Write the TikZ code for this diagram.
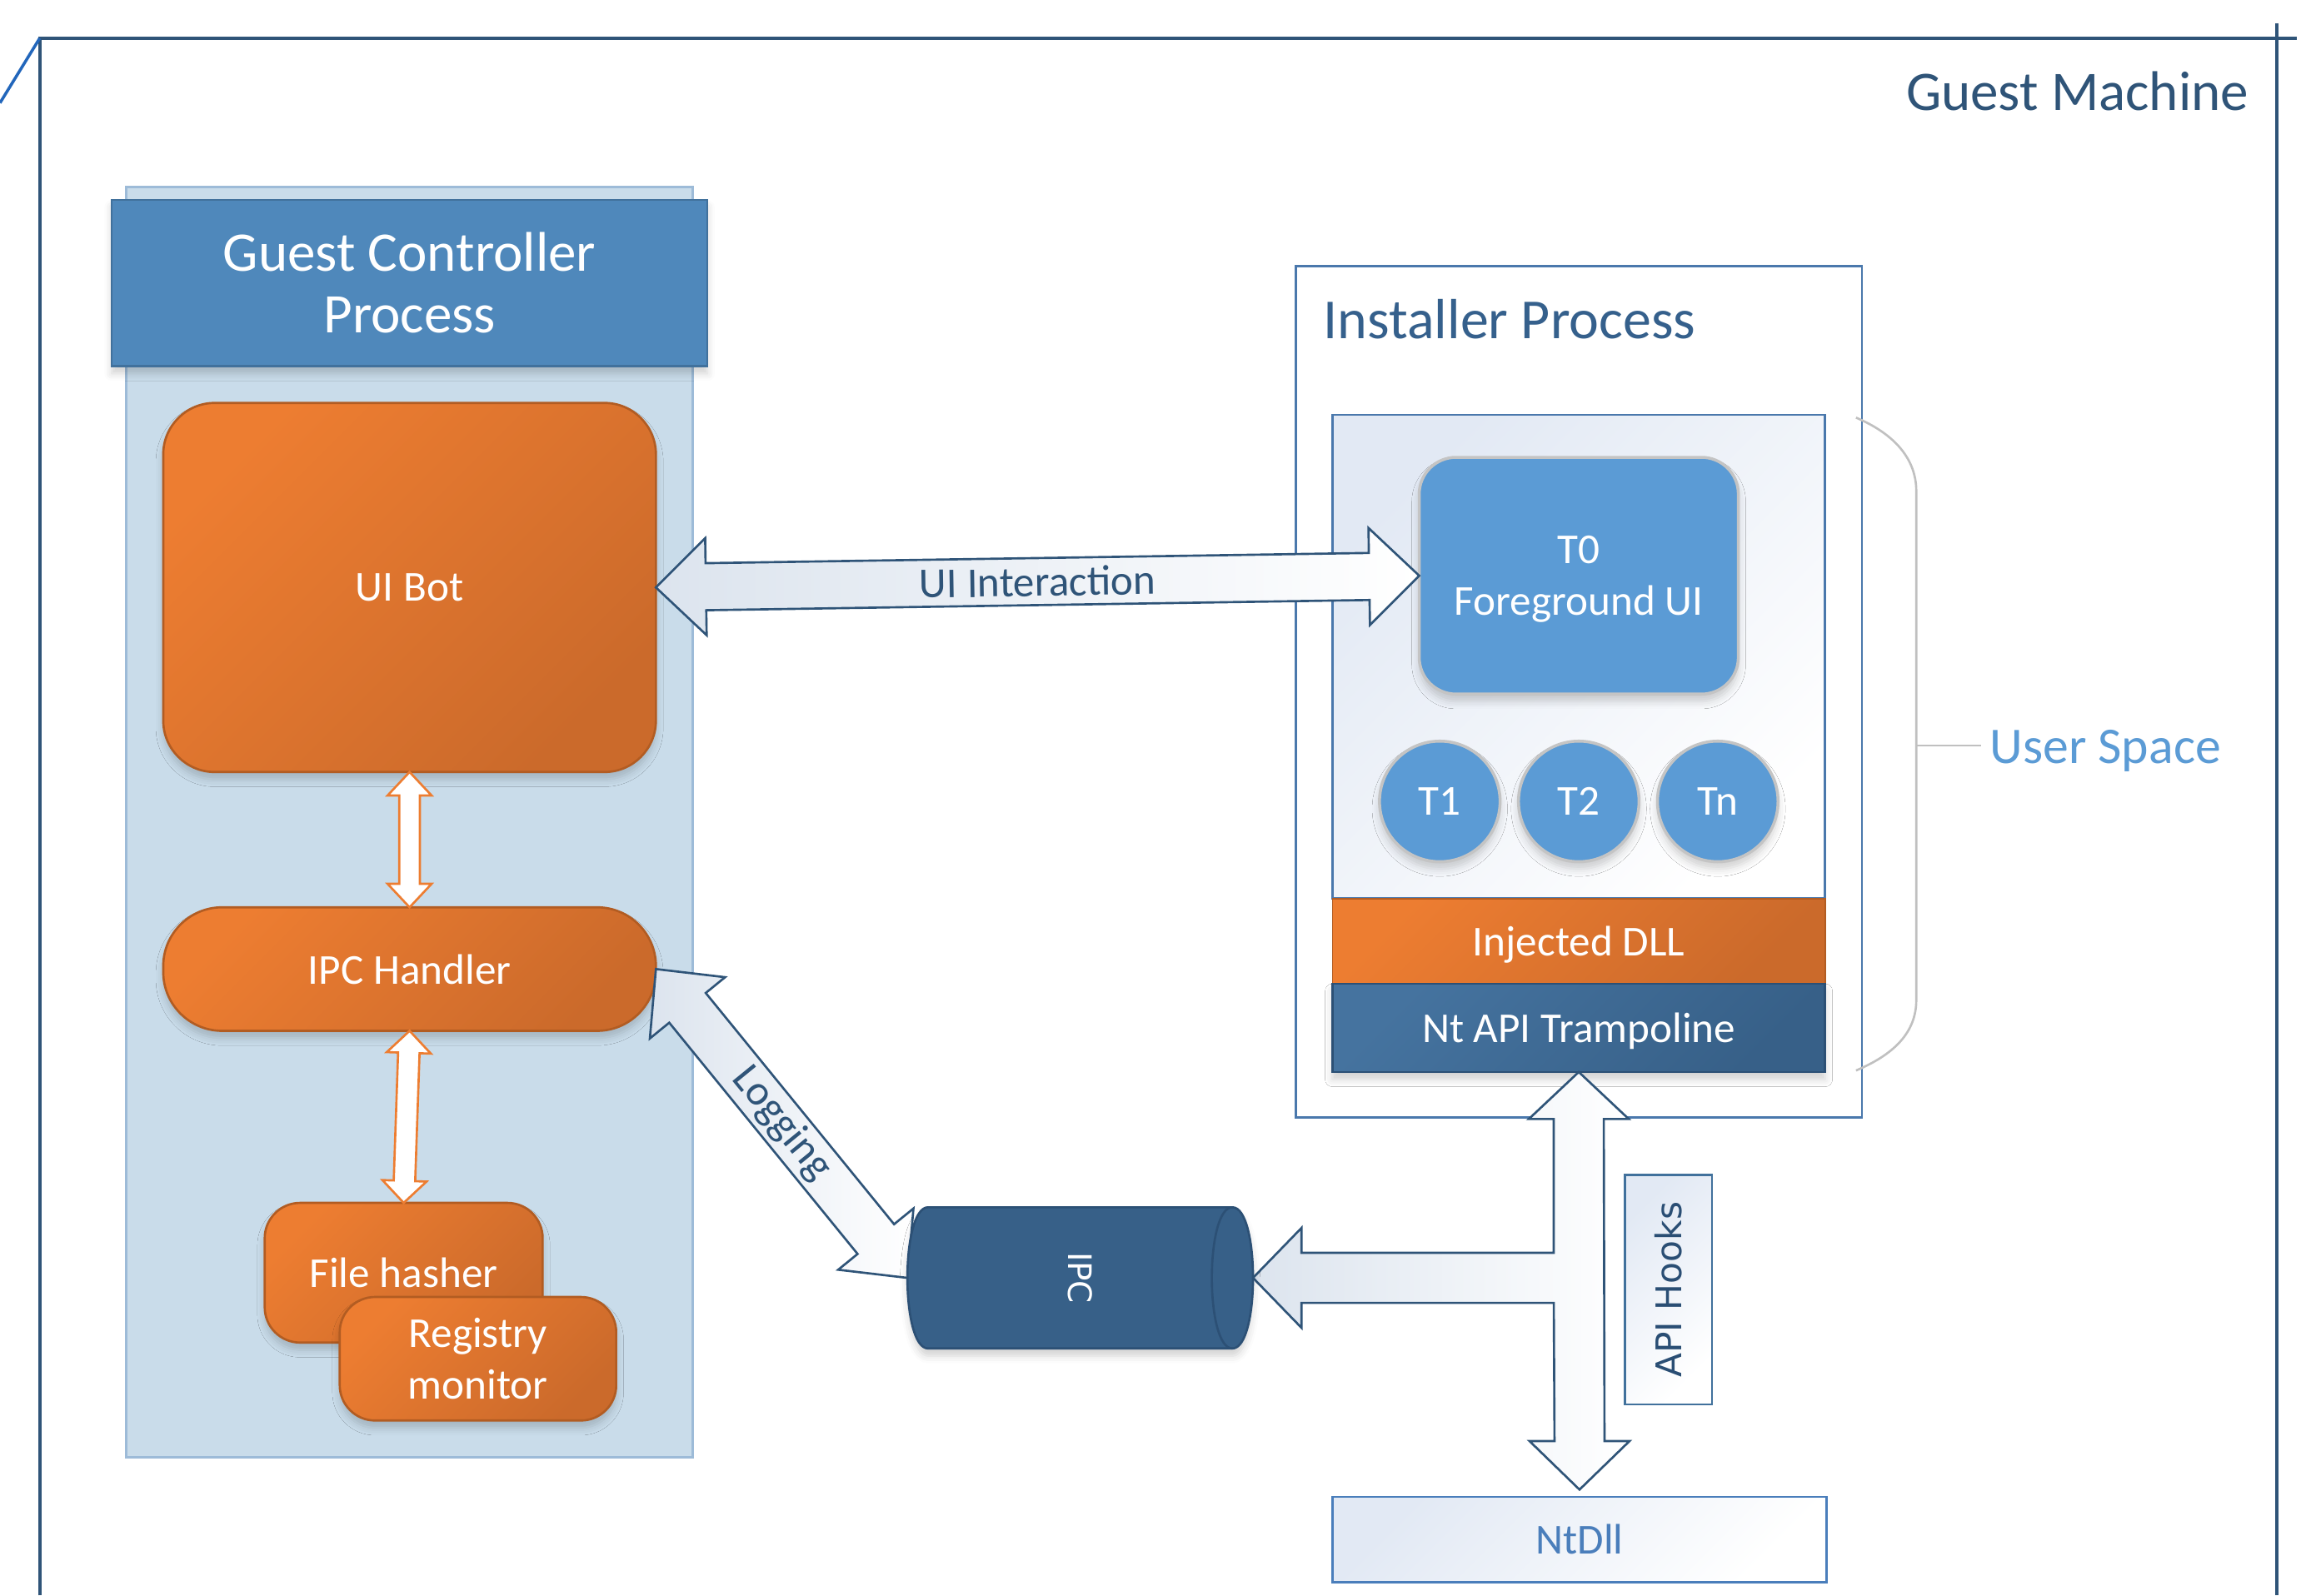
\documentclass[tikz,border=0pt]{standalone}
\usepackage{fontspec}
\setmainfont{Carlito}
\newfontfamily\vfont{DejaVu Sans}
\usetikzlibrary{calc,shadows.blur}
\definecolor{frameblue}{HTML}{2F5478}
\definecolor{diagblue}{HTML}{2266BB}
\definecolor{headblue}{HTML}{4F88BB}
\definecolor{headborder}{HTML}{41719C}
\definecolor{panelfill}{HTML}{C9DCEA}
\definecolor{panelborder}{HTML}{9DBBD8}
\definecolor{orL}{HTML}{ED7D31}
\definecolor{orD}{HTML}{CB6A2B}
\definecolor{orB}{HTML}{B25C22}
\definecolor{instborder}{HTML}{4A78AC}
\definecolor{instlabel}{HTML}{35608C}
\definecolor{innerL}{HTML}{E2E9F4}
\definecolor{tblue}{HTML}{5B9BD5}
\definecolor{tborder}{HTML}{C4C4C4}
\definecolor{navyL}{HTML}{45739F}
\definecolor{navyD}{HTML}{376088}
\definecolor{navyB}{HTML}{2C5075}
\definecolor{bracegray}{HTML}{C0C0C0}
\definecolor{userblue}{HTML}{5B9BD5}
\definecolor{ntdllblue}{HTML}{4A7EBB}
\definecolor{arrowL}{HTML}{DCE4EE}
\definecolor{hookstext}{HTML}{2A4E74}

% double-headed block arrow: style, from, to, head length, head half width, shaft half width
\newcommand\dblarrow[6]{%
  \draw[#1] (#2)
    -- ($(#2)!#4!(#3)!#5!90:(#3)$)
    -- ($(#2)!#4!(#3)!#6!90:(#3)$)
    -- ($(#3)!#4!(#2)!#6!270:(#2)$)
    -- ($(#3)!#4!(#2)!#5!270:(#2)$)
    -- (#3)
    -- ($(#3)!#4!(#2)!#5!90:(#2)$)
    -- ($(#3)!#4!(#2)!#6!90:(#2)$)
    -- ($(#2)!#4!(#3)!#6!270:(#3)$)
    -- ($(#2)!#4!(#3)!#5!270:(#3)$)
    -- cycle;}

\begin{document}
\begin{tikzpicture}[x=1pt,y=-1pt,
  every node/.style={outer sep=0pt,inner sep=0pt},
  lbl/.style={font=\fontsize{29}{35}\selectfont},
  big/.style={font=\fontsize{38}{42}\selectfont},
  shadowed/.style={blur shadow={shadow xshift=0pt,shadow yshift=-5pt,shadow blur radius=5pt,shadow opacity=18}},
  panel/.style={draw=panelborder,fill=panelfill,line width=1.5pt},
  header/.style={draw=headborder,fill=headblue,line width=1.5pt,text=white,big,align=center,shadowed},
  orangebox/.style={draw=orB,line width=1.5pt,top color=orL,bottom color=orD,shading angle=45,text=white,lbl,align=center,text depth=0pt,shadowed},
  instbox/.style={draw=instborder,fill=white,line width=1.5pt},
  lightbox/.style={draw=instborder,line width=1.5pt,top color=innerL,bottom color=white,shading angle=45},
  tnode/.style={draw=tborder,line width=2pt,fill=tblue,text=white,lbl,align=center,text depth=0pt,shadowed},
  dllbox/.style={draw=orB,line width=1pt,top color=orL,bottom color=orD,shading angle=45,text=white,lbl,text depth=0pt},
  ntbox/.style={draw=navyB,line width=1.5pt,top color=navyL,bottom color=navyD,shading angle=45,text=white,lbl,text depth=0pt,shadowed},
  bigarrow/.style={draw=frameblue,line width=1.5pt,left color=arrowL,right color=white},
  orarrow/.style={draw=orL,line width=1.5pt,fill=white},
  cylbody/.style={fill=navyD,draw=navyB,line width=1.5pt,shadowed},
  cylcap/.style={draw=navyB,line width=1.5pt},
  bracestyle/.style={draw=bracegray,line width=1.5pt},
]
\useasboundingbox (0,0) rectangle (1568,1085);

% Guest machine frame
\draw[frameblue,line width=2.2pt] (27,1085) -- (27,26) -- (1562,26);
\draw[frameblue,line width=2.2pt] (1548,16) -- (1548,1085);
\draw[diagblue,line width=2pt] (27,26) -- (0,70);
\node[anchor=base east,big,text=frameblue] (gmlbl) at (1529,75) {Guest Machine};

% Guest controller process
\node[panel,minimum width=385pt,minimum height=864pt] (ctrl) at (278.5,559) {};
\node[header,minimum width=405pt,minimum height=113pt] (ctrlhead) at (278.5,192.5) {Guest Controller\\Process};
\node[orangebox,rounded corners=35pt,minimum width=335pt,minimum height=251pt] (uibot) at (278.5,399.5) {UI Bot};
\node[orangebox,rounded corners=40pt,minimum width=335pt,minimum height=84pt] (ipch) at (278.5,659) {IPC Handler};
\node[orangebox,rounded corners=24pt,minimum width=189pt,minimum height=95pt] (fileh) at (274.5,865.5) {File hasher};
\node[orangebox,rounded corners=24pt,minimum width=188pt,minimum height=84pt] (regmon) at (325,924) {Registry\\monitor};

% Installer process
\node[instbox,minimum width=385pt,minimum height=579pt] (inst) at (1073.5,470.5) {};
\node[anchor=base west,font=\fontsize{38.5}{42}\selectfont,text=instlabel] (instlbl) at (900,230) {Installer Process};
\node[lightbox,minimum width=335pt,minimum height=329pt] (innerb) at (1073.5,446.5) {};
\node[tnode,rounded corners=25pt,minimum width=217pt,minimum height=161pt] (t0) at (1073.5,391.5) {T0\\Foreground UI};
\node[tnode,circle,minimum size=82pt] (t1) at (979,545) {T1};
\node[tnode,circle,minimum size=82pt] (t2) at (1073.5,545) {T2};
\node[tnode,circle,minimum size=82pt] (tn) at (1168,545) {Tn};
\node[dllbox,minimum width=335pt,minimum height=58pt] (dll) at (1073.5,640) {Injected DLL};
\node[ntbox,minimum width=335pt,minimum height=60pt] (nt) at (1073.5,699) {Nt API Trampoline};

% NtDll and API hooks
\node[lightbox,draw=ntdllblue,minimum width=336pt,minimum height=58pt,lbl,text=ntdllblue] (ntdll) at (1074,1047) {NtDll};
\node[lightbox,draw=headborder,rotate=90,minimum width=156pt,minimum height=59pt,text=hookstext,font=\vfont\fontsize{24}{28}\selectfont] (hooks) at (1134.5,877) {API Hooks};

% IPC channel (anchor holder)
\node[minimum width=235pt,minimum height=96pt] (ipc) at (734.5,869) {};

% User space brace
\draw[bracestyle] (1262,284) .. controls (1288,295) and (1303,312) .. (1303,334) -- (1303,680) .. controls (1303,702) and (1288,717) .. (1262,728);
\draw[bracestyle] (1303,507) -- (1347,507);
\node[anchor=base west,font=\fontsize{35}{40}\selectfont,text=userblue] (uslbl) at (1353,519) {User Space};

% connectors
\dblarrow{bigarrow}{uibot.east}{t0.west}{34pt}{33pt}{16pt}
\dblarrow{orarrow}{uibot.south}{ipch.north}{16pt}{15pt}{7pt}
\dblarrow{orarrow}{ipch.south}{fileh.north}{15pt}{15pt}{7.3pt}
\dblarrow{bigarrow}{ipch.east}{ipc.west}{34pt}{33pt}{16pt}

\coordinate (apiTop) at (nt.south);
\coordinate (apiBot) at ($(ntdll.north)+(0,-5)$);
\coordinate (apiMid) at (ipc.east);
\draw[bigarrow] (apiTop) -- ++(34,32) -- ++(-17,0)
  -- ($(apiBot)+(17,-33)$) -- ($(apiBot)+(34,-33)$) -- (apiBot)
  -- ($(apiBot)+(-34,-33)$) -- ($(apiBot)+(-17,-33)$)
  -- ($(apiTop |- apiMid)+(-17,17)$) -- ($(apiMid)+(33,17)$)
  -- ($(apiMid)+(33,34)$) -- (apiMid) -- ($(apiMid)+(33,-34)$)
  -- ($(apiMid)+(33,-17)$) -- ($(apiTop |- apiMid)+(-17,-17)$)
  -- ($(apiTop)+(-17,32)$) -- ($(apiTop)+(-34,32)$) -- cycle;

% IPC cylinder
\draw[cylbody] (838,821) -- (631,821) .. controls (612.33,821) and (612.33,917) .. (631,917)
  -- (838,917) .. controls (856.67,917) and (856.67,821) .. (838,821) -- cycle;
\draw[cylcap] (838,821) .. controls (819.33,821) and (819.33,917) .. (838,917);
\node[rotate=-90,text=white,font=\vfont\fontsize{22}{26}\selectfont] (ipclbl) at (ipc.center) {IPC};

% connector labels
\path (uibot.east) -- (t0.west) node[midway,sloped,lbl,text=frameblue] (uilbl) {UI Interaction};
\path (ipch.east) -- (ipc.west) node[midway,sloped,lbl,text=frameblue] (loglbl) {Logging};
\end{tikzpicture}
\end{document}
